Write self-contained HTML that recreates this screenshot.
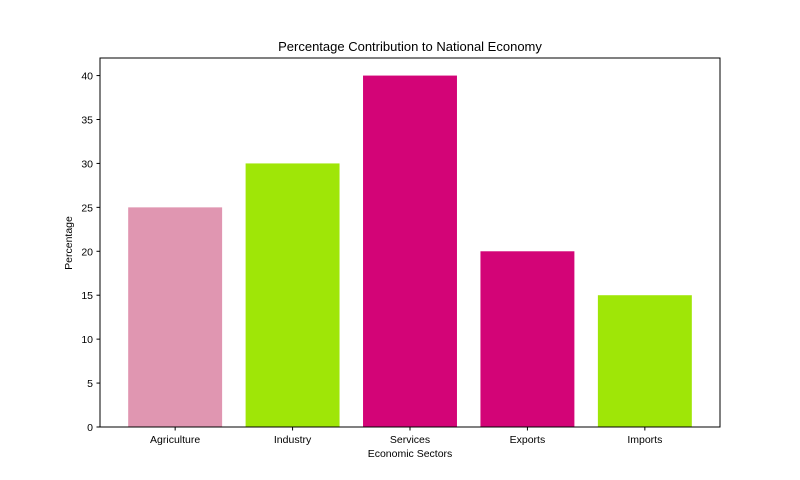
<!DOCTYPE html>
<html>
<head>
<meta charset="utf-8">
<style>
html,body{margin:0;padding:0;background:#fff;}
svg{display:block;font-family:"Liberation Sans","DejaVu Sans",sans-serif;}
</style>
</head>
<body>
<svg id="chart" width="800" height="480" viewBox="0 0 800 480">
  <rect x="0" y="0" width="800" height="480" fill="#fff"/>
  <text x="410" y="51" text-anchor="middle" font-size="13" fill="#000">Percentage Contribution to National Economy</text>
  <g id="bars"></g>
  <g id="yaxis"></g>
  <g id="xaxis"></g>
  <rect x="100" y="58" width="620" height="369" fill="none" stroke="#000" stroke-width="1"/>
  <text x="410" y="457" text-anchor="middle" font-size="10.5" fill="#000">Economic Sectors</text>
  <text transform="translate(72,243) rotate(-90)" text-anchor="middle" font-size="10.5" fill="#000">Percentage</text>
</svg>
<script>
const categories = ["Agriculture","Industry","Services","Exports","Imports"];
const values = [25,30,40,20,15];
const colors = ["#e096b1","#9fe607","#d30477","#d30477","#9fe607"];
const yTicks = [0,5,10,15,20,25,30,35,40];

const L=100,R=720,T=58,B=427;
const yMax=42, xMin=-0.64, xMax=categories.length-0.36;
const ys=v=>B-(v/yMax)*(B-T);
const xs=i=>L+(i-xMin)/(xMax-xMin)*(R-L);
const NS="http://www.w3.org/2000/svg";
const bw=0.8*(R-L)/(xMax-xMin);

const bars=document.getElementById('bars');
values.forEach((v,i)=>{
  const r=document.createElementNS(NS,'rect');
  r.setAttribute('x',xs(i)-bw/2);
  r.setAttribute('y',ys(v));
  r.setAttribute('width',bw);
  r.setAttribute('height',B-ys(v));
  r.setAttribute('fill',colors[i]);
  
  
  bars.appendChild(r);
});
const ya=document.getElementById('yaxis');
yTicks.forEach(t=>{
  const y=ys(t);
  const l=document.createElementNS(NS,'line');
  l.setAttribute('x1',L-3.5);l.setAttribute('x2',L);
  l.setAttribute('y1',y);l.setAttribute('y2',y);
  l.setAttribute('stroke','#000');
  
  
  ya.appendChild(l);
  const tx=document.createElementNS(NS,'text');
  tx.setAttribute('x',L-7);tx.setAttribute('y',y+4);
  tx.setAttribute('text-anchor','end');tx.setAttribute('font-size','10.5');
  tx.textContent=t;
  
  
  ya.appendChild(tx);
});
const xa=document.getElementById('xaxis');
categories.forEach((c,i)=>{
  const x=xs(i);
  const l=document.createElementNS(NS,'line');
  l.setAttribute('x1',x);l.setAttribute('x2',x);
  l.setAttribute('y1',B);l.setAttribute('y2',B+3.5);
  l.setAttribute('stroke','#000');
  
  
  xa.appendChild(l);
  const tx=document.createElementNS(NS,'text');
  tx.setAttribute('x',x);tx.setAttribute('y',B+16);
  tx.setAttribute('text-anchor','middle');tx.setAttribute('font-size','10.5');
  tx.textContent=c;
  
  
  xa.appendChild(tx);
});
</script>
</body>
</html>
